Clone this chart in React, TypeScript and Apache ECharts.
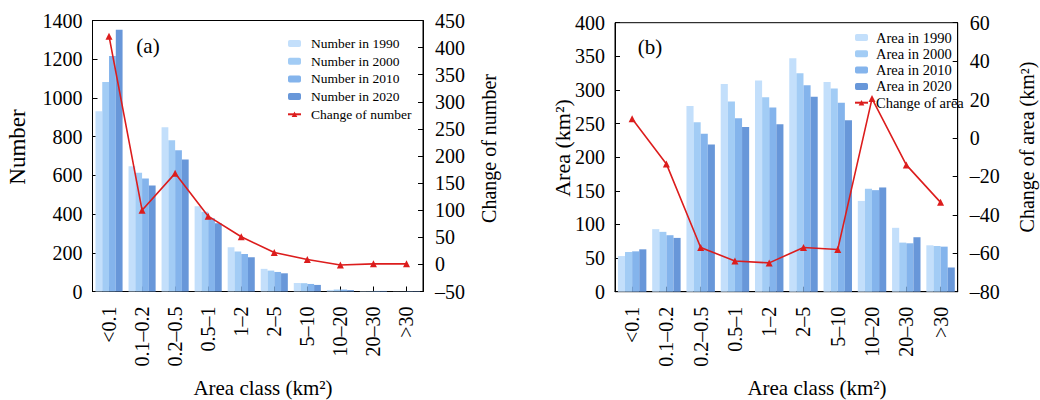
import React, { useEffect, useRef } from "react";
import * as echarts from "echarts";

const categories = ["<0.1", "0.1–0.2", "0.2–0.5", "0.5–1", "1–2", "2–5", "5–10", "10–20", "20–30", ">30"];

const number1990 = [931, 647, 849, 441, 228, 117, 44, 8, 2, 1];
const number2000 = [1082, 613, 781, 412, 206, 108, 43, 10, 2, 1];
const number2010 = [1216, 584, 730, 378, 194, 101, 39, 10, 3, 2];
const number2020 = [1352, 548, 682, 352, 177, 94, 34, 7, 3, 2];
const numberChange = [421, 100, 168, 89, 51, 22, 9, -1, 1, 1];

const area1990 = [53, 93, 276, 309, 314, 347, 312, 135, 95, 69];
const area2000 = [59, 89, 252, 283, 289, 325, 302, 153, 73, 68];
const area2010 = [60, 84, 235, 258, 274, 307, 281, 151, 72, 67];
const area2020 = [63, 80, 219, 245, 249, 290, 255, 155, 81, 36];
const areaChange = [10, -13.5, -57, -64, -65, -57, -58, 20.5, -14, -33.5];

const numberNames = ["Number in 1990", "Number in 2000", "Number in 2010", "Number in 2020"];
const areaNames = ["Area in 1990", "Area in 2000", "Area in 2010", "Area in 2020"];
const barColors = ["#c3dffb", "#a2ccf5", "#84b4ec", "#6897d9"];
const lineColor = "#dc1d1d";
const FONT = '"Liberation Serif", "Times New Roman", serif';

function fmt(v: number) {
  return v < 0 ? "–" + Math.abs(v) : String(v);
}

export default function App() {
  const ref = useRef<HTMLDivElement>(null);
  useEffect(() => {
    if (!ref.current) return;
    const chart = echarts.init(ref.current, undefined, { renderer: "svg" });
    const axisLine = { show: true, lineStyle: { color: "#000", width: 1 } };
    const axisTick = { show: true, inside: true, length: 5, lineStyle: { color: "#000" } };
    const labelStyle = { color: "#000", fontFamily: FONT, fontSize: 20 };

    const xAxisFor = (gridIndex: number) => ({
      type: "category",
      gridIndex,
      data: categories,
      boundaryGap: true,
      axisLine,
      axisTick: { ...axisTick, alignWithLabel: true },
      axisLabel: { ...labelStyle, rotate: 90, margin: 15, interval: 0 },
      splitLine: { show: false },
    });

    const yAxisFor = (gridIndex: number, min: number, max: number, interval: number, position: string) => ({
      type: "value",
      gridIndex,
      min,
      max,
      interval,
      position,
      axisLine,
      axisTick,
      axisLabel: {
        ...labelStyle,
        margin: position === "left" ? 10 : 12,
        formatter: (v: number) => fmt(v),
      },
      splitLine: { show: false },
    });

    const bars = (names: string[], data: number[][], xi: number, yi: number, gap: string) =>
      names.map((n, i) => ({
        name: n,
        type: "bar",
        xAxisIndex: xi,
        yAxisIndex: yi,
        data: data[i],
        barGap: "0%",
        barCategoryGap: gap,
        itemStyle: { color: barColors[i] },
      }));

    const lineSeries = (name: string, data: number[], xi: number, yi: number) => ({
      name,
      type: "line",
      xAxisIndex: xi,
      yAxisIndex: yi,
      data,
      symbol: "triangle",
      symbolSize: 7,
      itemStyle: { color: lineColor },
      lineStyle: { color: lineColor, width: 1.6 },
      z: 5,
    });

    const titleText = (text: string, x: number, y: number, size: number, rotate: boolean) => ({
      type: "text",
      x,
      y,
      rotation: rotate ? Math.PI / 2 : 0,
      style: {
        text,
        fill: "#000",
        font: `${size}px ${FONT}`,
        align: "center",
        verticalAlign: "middle",
      },
    });

    chart.setOption({
      animation: false,
      backgroundColor: "#fff",
      grid: [
        { left: 92.5, top: 20.5, width: 330.5, height: 271, show: true, borderColor: "#000", borderWidth: 1 },
        { left: 615, top: 22.7, width: 342.7, height: 269, show: true, borderColor: "#000", borderWidth: 1 },
      ],
      xAxis: [xAxisFor(0), xAxisFor(1)],
      yAxis: [
        yAxisFor(0, 0, 1400, 200, "left"),
        yAxisFor(0, -50, 450, 50, "right"),
        yAxisFor(1, 0, 400, 50, "left"),
        yAxisFor(1, -80, 60, 20, "right"),
      ],
      legend: [
        {
          orient: "vertical",
          left: 282,
          top: 31.5,
          itemWidth: 13,
          itemHeight: 7,
          itemGap: 3.7,
          data: [...numberNames, "Change of number"],
          textStyle: { color: "#000", fontFamily: FONT, fontSize: 13.5, lineHeight: 13, padding: [0, 0, 0, 5] },
        },
        {
          orient: "vertical",
          left: 849,
          top: 25,
          itemWidth: 13,
          itemHeight: 7,
          itemGap: 1.3,
          data: [...areaNames, "Change of area"],
          textStyle: { color: "#000", fontFamily: FONT, fontSize: 14.5, lineHeight: 13, padding: [0, 0, 0, 3] },
        },
      ],
      series: [
        ...bars(numberNames, [number1990, number2000, number2010, number2020], 0, 0, "18%"),
        lineSeries("Change of number", numberChange, 0, 1),
        ...bars(areaNames, [area1990, area2000, area2010, area2020], 1, 2, "17%"),
        lineSeries("Change of area", areaChange, 1, 3),
      ],
      graphic: [
        titleText("(a)", 148, 46, 21, false),
        titleText("(b)", 650, 46.5, 21, false),
        titleText("Number", 17.5, 147, 23, true),
        titleText("Change of number", 489, 148.5, 20, true),
        titleText("Area (km²)", 562, 148, 22, true),
        titleText("Change of area (km²)", 1027, 147, 20, true),
        titleText("Area class (km²)", 263, 388, 21, false),
        titleText("Area class (km²)", 817, 388, 21, false),
      ],
    });
    return () => chart.dispose();
  }, []);
  return <div ref={ref} style={{ position: "fixed", left: 0, top: 0, width: 1040, height: 400 }} />;
}
